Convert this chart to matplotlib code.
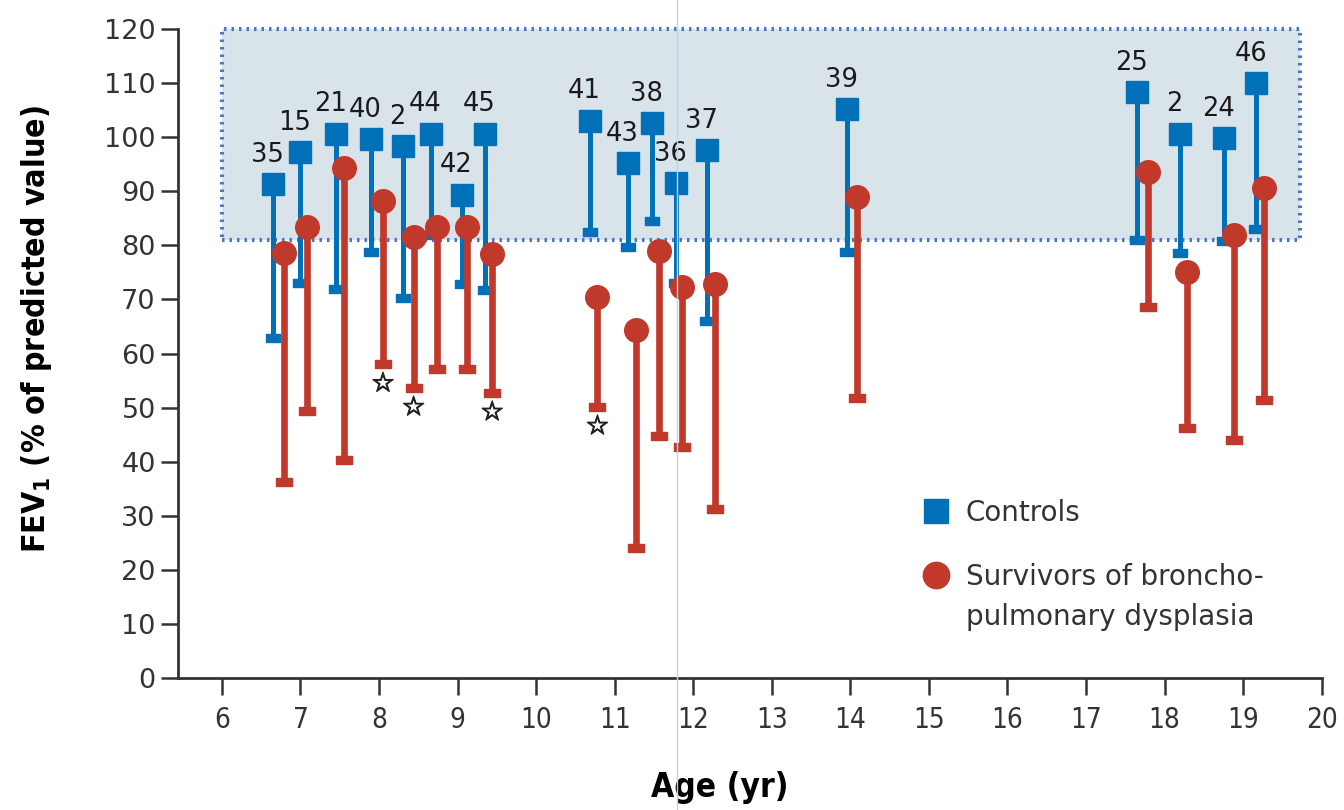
import matplotlib
matplotlib.use("Agg")
import matplotlib.pyplot as plt
import matplotlib.transforms as mtransforms
import matplotlib.patheffects as pe
from matplotlib.patches import Rectangle
from matplotlib.lines import Line2D
from matplotlib.path import Path

# ---------------- data ----------------
ctrl_age   = [6.65, 7.00, 7.45, 7.90, 8.30, 8.66, 9.05, 9.35, 10.68, 11.17, 11.48, 11.78, 12.17, 13.96, 17.65, 18.20, 18.76, 19.17]
ctrl_mean  = [91.3, 97.2, 100.7, 99.6, 98.3, 100.7, 89.3, 100.7, 103.1, 95.2, 102.6, 91.5, 97.6, 105.2, 108.3, 100.7, 99.8, 110.0]
ctrl_low   = [62.8, 73.0, 71.9, 78.7, 70.2, 82.0, 72.9, 71.7, 82.4, 79.7, 84.5, 73.0, 66.0, 78.7, 81.0, 78.6, 80.8, 83.0]
study_ids  = ["35", "15", "21", "40", "2", "44", "42", "45", "41", "43", "38", "36", "37", "39", "25", "2", "24", "46"]

bpd_age    = [6.79, 7.08, 7.56, 8.05, 8.44, 8.74, 9.12, 9.44, 10.78, 11.27, 11.57, 11.86, 12.28, 14.08, 17.79, 18.28, 18.89, 19.27]
bpd_mean   = [78.6, 83.5, 94.3, 88.2, 81.5, 83.5, 83.5, 78.4, 70.4, 64.3, 78.9, 72.3, 72.8, 88.9, 93.5, 75.0, 81.9, 90.6]
bpd_low    = [36.2, 49.4, 40.3, 58.0, 53.6, 57.1, 57.1, 52.7, 50.1, 24.0, 44.7, 42.7, 31.2, 51.8, 68.6, 46.2, 44.0, 51.4]
bpd_signif = [False, False, False, True, True, False, False, True, True, False, False, False, False, False, False, False, False, False]

normal_range = (81, 120)   # shaded band of normal FEV1
normal_ages = (6, 19.72)

x_ticks = list(range(6, 21))
y_ticks = list(range(0, 121, 10))

# ---------------- style ----------------
BLUE = "#0070B8"
RED = "#C0392B"
BAND = "#D9E3EA"
BORDER = "#4A78C8"

cap_path = Path([(-1, -0.5), (1, -0.5), (1, 0.5), (-1, 0.5), (-1, -0.5)],
                [Path.MOVETO, Path.LINETO, Path.LINETO, Path.LINETO, Path.CLOSEPOLY])

fig = plt.figure(figsize=(13.44, 8.10), dpi=100)
ax = fig.add_axes([0.1324, 0.163, 0.851, 0.801])
ax.set_xlim(5.44, 20)
ax.set_ylim(0, 120)

# normal band
ax.add_patch(Rectangle((normal_ages[0], normal_range[0]),
                       normal_ages[1] - normal_ages[0],
                       normal_range[1] - normal_range[0],
                       facecolor=BAND, edgecolor=BORDER, linewidth=3,
                       linestyle=(0, (0.6, 1.2)), zorder=1, clip_on=False))

# controls
ax.vlines(ctrl_age, ctrl_low, ctrl_mean, color=BLUE, linewidth=3.6, zorder=3)
ax.plot(ctrl_age, ctrl_low, linestyle="none", marker=cap_path, markersize=10.5,
        color=BLUE, zorder=3)
ax.plot(ctrl_age, ctrl_mean, linestyle="none", marker="s", markersize=16.5,
        color=BLUE, zorder=4)
for a, m, s in zip(ctrl_age, ctrl_mean, study_ids):
    ax.annotate(s, (a, m), xytext=(-4, 12), textcoords="offset points",
                ha="center", va="bottom", fontsize=18.5, color="#1a1a1a", zorder=6)

# BPD survivors
ax.vlines(bpd_age, bpd_low, bpd_mean, color=RED, linewidth=4.8, zorder=5)
ax.plot(bpd_age, bpd_low, linestyle="none", marker=cap_path, markersize=11,
        color=RED, zorder=5)
ax.plot(bpd_age, bpd_mean, linestyle="none", marker="o", markersize=17,
        color=RED, zorder=5)
for a, l, sig in zip(bpd_age, bpd_low, bpd_signif):
    if sig:
        ax.annotate("☆", (a, l), xytext=(0, -5), textcoords="offset points",
                    ha="center", va="top", fontsize=19, color="#222222",
                    path_effects=[pe.withStroke(linewidth=0.9, foreground="#222222")])

# axes styling
for sp in ["top", "right"]:
    ax.spines[sp].set_visible(False)
for sp in ["left", "bottom"]:
    ax.spines[sp].set_linewidth(2)
    ax.spines[sp].set_color("#333333")
ax.set_xticks(x_ticks)
ax.set_yticks(y_ticks)
ax.tick_params(axis="both", direction="out", length=12, width=1.8, color="#333333")
ax.tick_params(axis="y", labelsize=19.5, labelcolor="#333333", pad=4)
ax.tick_params(axis="x", labelsize=20, labelcolor="#333333", pad=8)
for lab in ax.get_xticklabels():
    lab.set_fontstretch("condensed")

ax.set_xlabel("Age (yr)", fontsize=24, fontweight="bold", fontstretch="condensed")
ax.xaxis.set_label_coords(0.474, -0.143)
ax.set_ylabel("FEV$_\\mathregular{1}$ (% of predicted value)", fontsize=23,
              fontweight="bold", fontstretch="condensed")
ax.yaxis.set_label_coords(-0.108, 0.538)

# legend
FS = 20
leg1 = ax.legend([Line2D([], [], linestyle="none", marker="s", markersize=17, color=BLUE)],
                 ["Controls"], loc="center left", bbox_to_anchor=(0.6486, 0.254),
                 frameon=False, fontsize=FS, handletextpad=0.45, handlelength=1.2,
                 borderpad=0, borderaxespad=0, labelcolor="#333333")
ax.add_artist(leg1)
ax.legend([Line2D([], [], linestyle="none", marker="o", markersize=19, color=RED),
           Line2D([], [], linestyle="none", marker="none")],
          ["Survivors of broncho-", "pulmonary dysplasia"],
          loc="center left", bbox_to_anchor=(0.6486, 0.125),
          frameon=False, fontsize=FS, labelspacing=0.45, handletextpad=0.45,
          handlelength=1.2, borderpad=0, borderaxespad=0, labelcolor="#333333")

# scan artefact: thin vertical line in the reference picture
fig.add_artist(Line2D([11.79, 11.79], [0, 1], color="#B4DAEA", linewidth=1,
                      transform=mtransforms.blended_transform_factory(ax.transData, fig.transFigure)))

fig.savefig("out.png", dpi=100)
